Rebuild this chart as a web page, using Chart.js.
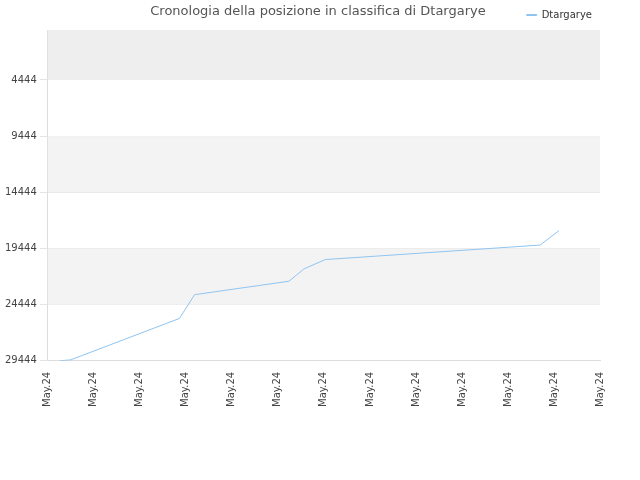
<!DOCTYPE html>
<html><head><script src="https://cdn.jsdelivr.net/npm/chart.js"></script>
<style>body{margin:0}#w{width:640px;height:480px}</style></head><body><div id="w"><canvas id="c"></canvas></div>
<script>
const xLabels=["May.24","May.24","May.24","May.24","May.24","May.24","May.24","May.24","May.24","May.24","May.24","May.24","May.24","May.24"];
const xPos=[0.26,0.5,2.86,3.19,5.24,5.57,6.03,10.7,11.11];
const ranks=[29444,29352,25670,23555,22360,21255,20430,19140,17850];
const yTicks=[4444,9444,14444,19444,24444,29444];
const titleText='Cronologia della posizione in classifica di Dtargarye';
const bands=[[0,4444,'#eeeeee'],[9444,14444,'#f3f3f3'],[19444,24444,'#f3f3f3']];
const bg={id:'bg',beforeDatasetsDraw(ch){const {ctx,chartArea:a,scales:{y}}=ch;ctx.save();
for(const [f,t,c] of bands){ctx.fillStyle=c;const y1=y.getPixelForValue(f),y2=y.getPixelForValue(t);ctx.fillRect(a.left,Math.min(y1,y2),a.right-a.left,Math.abs(y2-y1));}ctx.restore();},
afterDraw(ch){const ctx=ch.ctx;ctx.save();ctx.fillStyle='#555';ctx.font='13px "DejaVu Sans"';ctx.textAlign='center';ctx.textBaseline='middle';ctx.fillText(titleText,318,12);ctx.restore();}};
new Chart(document.getElementById('c'),{type:'line',
data:{datasets:[{label:'Dtargarye',data:xPos.map((x,i)=>({x,y:ranks[i]})),borderColor:'#90c4f0',backgroundColor:'#90c4f0',borderWidth:1,pointRadius:0,tension:0}]},
options:{responsive:true,maintainAspectRatio:false,animation:false,
layout:{padding:{left:2,right:40,top:2,bottom:70}},
plugins:{title:{display:false},
legend:{position:'top',align:'end',labels:{boxWidth:10,boxHeight:1,padding:8,color:'#333',font:{family:'DejaVu Sans',size:10}}}},
scales:{x:{type:'linear',min:0,max:12,afterBuildTicks(s){s.ticks=xLabels.slice(0,13).map((_,i)=>({value:i}));},
ticks:{callback:(v)=>xLabels[v],maxRotation:90,minRotation:90,color:'#444',font:{family:'DejaVu Sans',size:10},autoSkip:false},grid:{display:false},border:{color:'#ddd'}},
y:{reverse:true,min:0,max:29444,afterBuildTicks(s){s.ticks=yTicks.map(v=>({value:v}));},
ticks:{callback:(v)=>String(v),color:'#444',font:{family:'DejaVu Sans',size:10}},grid:{color:'#e4e4e4'},border:{color:'#ddd'}}}},
plugins:[bg]});
</script></body></html>
